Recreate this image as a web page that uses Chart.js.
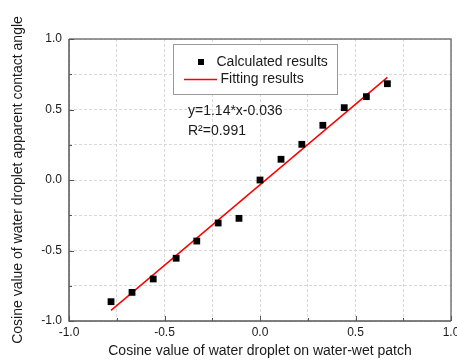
<!DOCTYPE html>
<html>
<head>
<meta charset="utf-8">
<script src="https://cdn.jsdelivr.net/npm/chart.js@4/dist/chart.umd.min.js"></script>
<style>
  html, body { margin: 0; padding: 0; background: #fff; }
  #wrap { width: 457px; height: 361px; }
</style>
</head>
<body>
<div id="wrap"><canvas id="myChart" width="457" height="361"></canvas></div>
<script>
// measured points (cos of droplet on patch vs apparent contact angle)
const calcX = [-0.78, -0.67, -0.559, -0.439, -0.331, -0.219, -0.11, 0.0, 0.11, 0.219, 0.329, 0.441, 0.557, 0.667];
const calcY = [-0.863, -0.797, -0.702, -0.555, -0.433, -0.305, -0.272, 0.0, 0.147, 0.253, 0.388, 0.513, 0.591, 0.683];

// fitted line end points
const fitX = [-0.78, 0.667];
const fitY = [-0.925, 0.728];

const seriesNames = ['Calculated results', 'Fitting results'];
const fitText = ['y=1.14*x-0.036', 'R\u00B2=0.991'];
const tickLabels = ['-1.0', '-0.5', '0.0', '0.5', '1.0'];

const FONT = '"Liberation Sans", Arial, sans-serif';
const AXIS = '#555';

function pts(xs, ys) {
    return xs.map((x, i) => ({ x: x, y: ys[i] }));
}

function label(v) {
    if (Math.abs(v * 2 - Math.round(v * 2)) > 1e-6) return '';
    const s = (Math.round(v * 2) / 2).toFixed(1);
    return tickLabels.includes(s) ? s : '';
}

// frame, inner ticks, legend and fit equation
const extras = {
    id: 'extras',
    afterDraw(chart) {
        const ctx = chart.ctx;
        const a = chart.chartArea;
        const xs = chart.scales.x, ys = chart.scales.y;
        ctx.save();
        // frame
        ctx.lineWidth = 1.5;
        ctx.strokeStyle = '#777';
        ctx.beginPath();
        ctx.moveTo(a.left, a.top);
        ctx.lineTo(a.right, a.top);
        ctx.lineTo(a.right, a.bottom);
        ctx.stroke();
        ctx.strokeStyle = AXIS;
        ctx.beginPath();
        ctx.moveTo(a.left, a.top);
        ctx.lineTo(a.left, a.bottom);
        ctx.lineTo(a.right, a.bottom);
        ctx.stroke();
        // inward tick marks
        ctx.lineWidth = 1;
        ctx.beginPath();
        xs.ticks.forEach(t => {
            const px = Math.round(xs.getPixelForValue(t.value)) + 0.5;
            const len = label(t.value) ? 5 : 3;
            ctx.moveTo(px, a.bottom);
            ctx.lineTo(px, a.bottom - len);
        });
        ys.ticks.forEach(t => {
            const py = Math.round(ys.getPixelForValue(t.value)) + 0.5;
            const len = label(t.value) ? 5 : 3;
            ctx.moveTo(a.left, py);
            ctx.lineTo(a.left + len, py);
        });
        ctx.stroke();

        // legend box
        ctx.fillStyle = '#fff';
        ctx.fillRect(173.5, 44.5, 164, 50);
        ctx.strokeStyle = '#999';
        ctx.lineWidth = 1;
        ctx.strokeRect(173.5, 44.5, 164, 50);
        ctx.fillStyle = '#000';
        ctx.fillRect(198, 59, 6, 6);
        ctx.strokeStyle = '#f00';
        ctx.lineWidth = 1.5;
        ctx.beginPath();
        ctx.moveTo(184, 79.5);
        ctx.lineTo(217, 79.5);
        ctx.stroke();
        ctx.fillStyle = '#1a1a1a';
        ctx.font = '14px ' + FONT;
        ctx.textBaseline = 'middle';
        ctx.textAlign = 'left';
        ctx.fillText(chart.data.datasets[0].label, 216.5, 62.5);
        ctx.fillText(chart.data.datasets[1].label, 220.5, 79.5);

        // fit equation
        ctx.fillText(fitText[0], 188, 111);
        ctx.fillText(fitText[1], 188, 131);
        ctx.restore();
    }
};

const ctx = document.getElementById('myChart').getContext('2d');
const myChart = new Chart(ctx, { //eslint-disable-line
    type: 'scatter',
    data: {
        datasets: [
            {
                label: seriesNames[0],
                data: pts(calcX, calcY),
                pointStyle: 'rect',
                pointRadius: 4.8,
                backgroundColor: '#000',
                borderColor: '#000',
                borderWidth: 0,
                order: 1
            },
            {
                label: seriesNames[1],
                type: 'line',
                data: pts(fitX, fitY),
                borderColor: '#f00',
                borderWidth: 1.5,
                pointRadius: 0,
                fill: false,
                order: 2
            }
        ]
    },
    plugins: [extras],
    options: {
        responsive: false,
        animation: false,
        layout: { padding: { top: 39, right: 6, left: 0, bottom: 0 } },
        plugins: {
            legend: { display: false },
            tooltip: { enabled: false }
        },
        scales: {
            x: {
                type: 'linear',
                min: -1,
                max: 1,
                afterFit(scale) {
                    scale.height = 40;
                    scale.paddingLeft = 0;
                    scale.paddingRight = 0;
                },
                grid: { color: '#d9d9d9', lineWidth: 1, drawTicks: false },
                border: { display: false, dash: [3, 2] },
                ticks: {
                    stepSize: 0.25,
                    padding: 4,
                    autoSkip: false,
                    maxRotation: 0,
                    color: '#1a1a1a',
                    font: { family: FONT, size: 12 },
                    callback: v => label(v)
                },
                title: {
                    display: true,
                    text: 'Cosine value of water droplet on water-wet patch',
                    color: '#1a1a1a',
                    font: { family: FONT, size: 14 },
                    padding: { top: 0, bottom: 1 }
                }
            },
            y: {
                type: 'linear',
                min: -1,
                max: 1,
                afterFit(scale) {
                    scale.width = 69;
                    scale.paddingTop = 0;
                    scale.paddingBottom = 0;
                },
                grid: { color: '#d9d9d9', lineWidth: 1, drawTicks: false },
                border: { display: false, dash: [3, 2] },
                ticks: {
                    stepSize: 0.25,
                    padding: 7,
                    autoSkip: false,
                    color: '#1a1a1a',
                    font: { family: FONT, size: 12 },
                    callback: v => label(v)
                },
                title: {
                    display: true,
                    text: 'Cosine value of water droplet apparent contact angle',
                    color: '#1a1a1a',
                    font: { family: FONT, size: 14 },
                    padding: { top: 10, bottom: 0 }
                }
            }
        }
    }
});
</script>
</body>
</html>
